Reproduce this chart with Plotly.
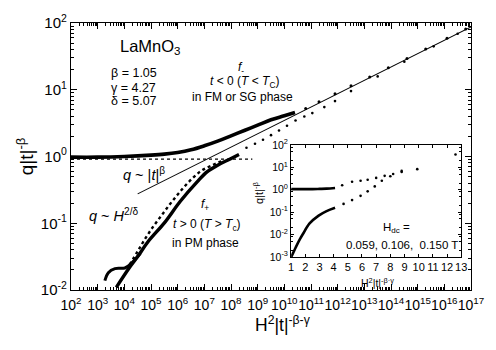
import plotly.graph_objects as go

# ---------------- data (log10 units) -------------
# main panel: x = log10(H^2|t|^(-beta-gamma)), y = log10(q|t|^-beta)
fminus_lx = [2.0, 3.0, 4.0, 5.0, 5.5, 6.0, 6.5, 7.0, 7.5, 8.0, 8.5, 9.0, 9.5, 10.0, 10.4]
fminus_ly = [-0.01, -0.01, 0.0, 0.02, 0.035, 0.06, 0.10, 0.16, 0.23, 0.31, 0.39, 0.47, 0.55, 0.61, 0.66]
fminus_tail_lx = [10.8, 11.3, 11.9, 12.5, 13.2, 13.9, 14.6, 15.3, 16.1, 16.8]
fminus_tail_ly = [0.72, 0.82, 0.94, 1.06, 1.19, 1.33, 1.47, 1.61, 1.77, 1.91]

fplus_lx = [3.70, 4.2, 4.5, 4.88, 5.51, 6.10, 6.73, 7.1, 7.5, 7.95, 8.3]
fplus_ly = [-1.96, -1.66, -1.50, -1.28, -0.99, -0.67, -0.38, -0.23, -0.13, -0.04, 0.03]
fplus_dot_lx = [4.2, 4.5, 4.8, 5.1, 5.4, 5.7, 6.0, 6.3, 6.6, 6.9, 7.3, 7.7]
fplus_dot_ly = [-1.62, -1.42, -1.22, -1.04, -0.88, -0.72, -0.57, -0.43, -0.31, -0.21, -0.13, -0.06]
fplus_tail_lx = [8.58, 8.9, 9.2, 9.5, 9.8, 10.1, 10.42, 10.75, 11.05, 11.5, 11.9, 12.5, 13.5, 14.5, 15.6, 16.5]
fplus_tail_ly = [0.13, 0.19, 0.25, 0.32, 0.39, 0.46, 0.54, 0.60, 0.65, 0.74, 0.83, 0.98, 1.20, 1.42, 1.65, 1.84]
hook_lx = [3.27, 3.40, 3.65, 4.02, 4.24, 4.6]
hook_ly = [-1.86, -1.74, -1.68, -1.67, -1.61, -1.45]

asym_lx = [4.5, 17.0]
asym_ly = [-0.56, 1.94]
tbeta_lx = [2.0, 8.8]
tbeta_ly = [-0.04, -0.04]

# inset: x = exponent (linear), y = log10(q|t|^-beta)
in_up_x = [1.0, 1.5, 2.0, 2.5, 3.0, 3.5, 4.1]
in_up_ly = [0.03, 0.03, 0.03, 0.03, 0.04, 0.05, 0.08]
in_up_dot_x = [4.6, 5.3, 5.9, 6.4, 7.0, 7.6, 8.2, 8.8, 9.9, 12.6]
in_up_dot_ly = [0.2, 0.36, 0.40, 0.45, 0.53, 0.62, 0.70, 0.79, 0.92, 1.57]
in_lo_x = [1.0, 1.15, 1.35, 1.6, 1.83, 2.3, 2.94, 3.5, 4.1]
in_lo_ly = [-3.0, -2.8, -2.53, -2.22, -1.97, -1.5, -1.15, -0.95, -0.8]
in_lo_dot_x = [4.7, 5.3, 5.9, 6.4, 6.9, 7.4, 8.0, 8.8]
in_lo_dot_ly = [-0.63, -0.46, -0.27, -0.07, 0.15, 0.40, 0.60, 0.84]

main_exps = list(range(2, 18))
main_y_exps = [-2, -1, 0, 1, 2]
inset_x_ticks = list(range(1, 14))
inset_y_exps = [-3, -2, -1, 0, 1, 2]

# ---------------------------------------------------------------------------------
FONT = "Liberation Sans, Arial, sans-serif"
P = lambda v: [10 ** a for a in v]
K = "black"

fig = go.Figure()

def line(x, y, w=1, dash=None, xa="x", ya="y"):
    fig.add_trace(go.Scatter(x=x, y=y, mode="lines", xaxis=xa, yaxis=ya,
                             line=dict(color=K, width=w, dash=dash, shape="spline"),
                             hoverinfo="skip", showlegend=False))

def dots(x, y, s=2.6, xa="x", ya="y"):
    fig.add_trace(go.Scatter(x=x, y=y, mode="markers", xaxis=xa, yaxis=ya,
                             marker=dict(color=K, size=s, line=dict(width=0)),
                             hoverinfo="skip", showlegend=False))

# main panel
line(P(tbeta_lx), P(tbeta_ly), 1.2, "dot")
line(P(asym_lx), P(asym_ly), 1.1)
line(P(fminus_lx), P(fminus_ly), 3.6)
dots(P(fminus_tail_lx), P(fminus_tail_ly), 3)
line(P(fplus_lx), P(fplus_ly), 3.4)
line(P(hook_lx), P(hook_ly), 3.0)
line(P(fplus_dot_lx), P(fplus_dot_ly), 2.4, "dot")
dots(P(fplus_tail_lx), P(fplus_tail_ly), 2.6)

# inset
line(in_up_x, P(in_up_ly), 2.6, xa="x2", ya="y2")
dots(in_up_dot_x, P(in_up_dot_ly), 2.6, xa="x2", ya="y2")
line(in_lo_x, P(in_lo_ly), 2.6, xa="x2", ya="y2")
dots(in_lo_dot_x, P(in_lo_dot_ly), 2.6, xa="x2", ya="y2")

# plot-area geometry helpers (pixels -> paper)
L, R, T, B = 71, 478, 14, 290
fx = lambda px: (px - L) / (R - L)
fy = lambda py: (B - py) / (B - T)

minor_main_x = [m * 10 ** e for e in range(2, 17) for m in range(2, 10)]
minor_main_y = [m * 10 ** e for e in range(-2, 2) for m in range(2, 10)]
minor_in_y = [m * 10 ** e for e in range(-3, 2) for m in range(2, 10, 3)]

axis_common = dict(showline=True, linecolor=K, linewidth=1.2, mirror="allticks",
                   ticks="inside", tickcolor=K, showgrid=False, zeroline=False)

fig.update_layout(
    width=496, height=350,
    margin=dict(l=L, r=496 - R, t=T, b=350 - B),
    paper_bgcolor="white", plot_bgcolor="white",
    font=dict(family=FONT, color=K),
    showlegend=False,
    xaxis=dict(type="log", range=[2, 17], domain=[0, 1], ticklen=6, tickwidth=1,
               tickvals=[10 ** e for e in main_exps],
               ticktext=["10<sup>%d</sup>" % e for e in main_exps],
               tickangle=0, tickfont=dict(size=14), ticklabelstandoff=2,
               minor=dict(tickvals=minor_main_x, ticks="inside", ticklen=3, tickcolor=K),
               **axis_common),
    yaxis=dict(type="log", range=[-2, 2], domain=[0, 1], ticklen=6, tickwidth=1,
               tickvals=[10 ** e for e in main_y_exps],
               ticktext=["10<sup>%d</sup>" % e for e in main_y_exps],
               tickfont=dict(size=15),
               minor=dict(tickvals=minor_main_y, ticks="inside", ticklen=3, tickcolor=K),
               **axis_common),
    xaxis2=dict(range=[1, 13], domain=[fx(295), fx(468)], anchor="y2", ticklen=3,
                tickvals=inset_x_ticks, ticktext=[str(v) for v in inset_x_ticks],
                tickangle=0, tickfont=dict(size=11), ticklabelstandoff=0,
                **axis_common),
    yaxis2=dict(type="log", range=[-3, 2], domain=[fy(256), fy(140)], anchor="x2",
                ticklen=3, tickvals=[10 ** e for e in inset_y_exps],
                ticktext=["10<sup>%d</sup>" % e for e in inset_y_exps],
                tickfont=dict(size=10.5),
                minor=dict(tickvals=minor_in_y, ticks="inside", ticklen=2, tickcolor=K),
                **axis_common),
)

def ann(text, px, py, size=12, xanchor="center", angle=0):
    fig.add_annotation(text=text, x=fx(px), y=fy(py), xref="paper", yref="paper",
                       showarrow=False, xanchor=xanchor, yanchor="middle",
                       textangle=angle, font=dict(size=size, family=FONT, color=K))

# axis titles
ann("q|t|<sup>-β</sup>", 24, 152, 19, angle=-90)
ann("H<sup>2</sup>|t|<sup>-β-γ</sup>", 287, 325, 17.5)
ann("q|t|<sup>-β</sup>", 262, 190, 11, angle=-90)
ann("H<sup>2</sup>|t|<sup>-β·γ</sup>", 383, 282, 10.5)

# labels in main panel
ann("LaMnO<sub>3</sub>", 152, 39, 16.5)
ann("β = 1.05", 110, 66, 12.5, xanchor="left")
ann("γ = 4.27", 110, 81, 12.5, xanchor="left")
ann("δ = 5.07", 110, 95, 12.5, xanchor="left")
ann("<i>f</i><sub>-</sub>", 244, 61, 12)
ann("<i>t</i> &lt; 0 (<i>T</i> &lt; <i>T</i><sub>C</sub>)", 248, 75, 12)
ann("in FM or SG phase", 246, 91, 12)
ann("<i>q</i> ~ |<i>t</i>|<sup>β</sup>", 145, 170, 14.5)
ann("<i>q</i> ~ <i>H</i><sup>2/δ</sup>", 115, 212, 14.5)
ann("<i>f</i><sub>+</sub>", 207, 202, 12)
ann("<i>t</i> &gt; 0 (<i>T</i> &gt; <i>T</i><sub>c</sub>)", 209, 223, 12)
ann("in PM phase", 208, 241, 12)

# labels in inset
ann("H<sub>dc</sub> =", 402, 226, 11.5)
ann("0.059, 0.106,  0.150 T", 408, 243, 11.5)

fig.write_html("out.html")
